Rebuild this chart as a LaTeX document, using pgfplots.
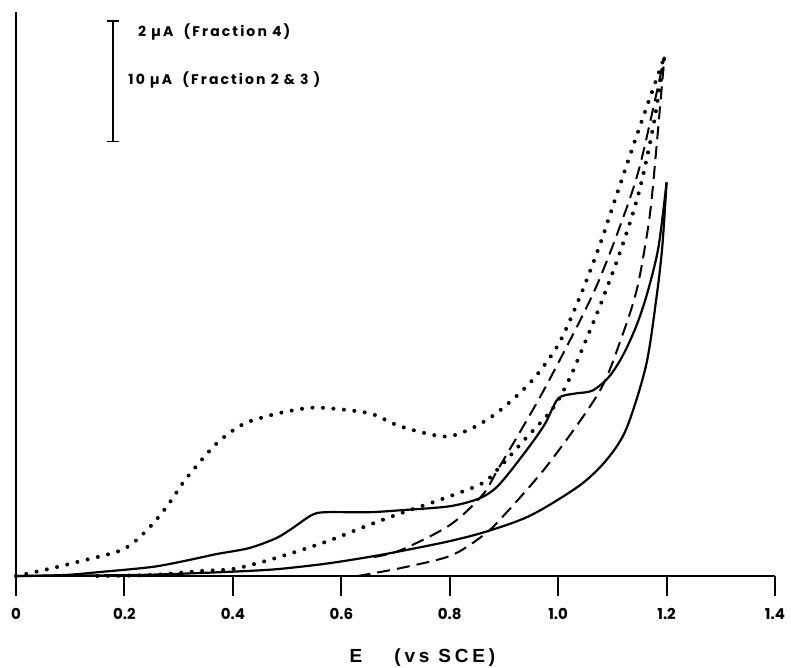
\documentclass[border=0pt]{standalone}
\usepackage{fontspec}
\setmainfont{Liberation Sans}
\newfontfamily\tickfont{Poppins}
\usepackage{pgfplots}
\pgfplotsset{compat=1.18}

\pgfplotsset{
  dotcurve/.style={black, line width=4pt, line cap=round, dash pattern=on 0pt off 10.5pt, smooth},
  dashcurve/.style={black, line width=2pt, dash pattern=on 13pt off 7pt, smooth},
  solidcurve/.style={black, line width=2.2pt, smooth},
}

\begin{document}
\begin{tikzpicture}
\begin{axis}[
  scale only axis,
  width=759pt, height=564pt,
  xmin=0, xmax=1.4, ymin=0, ymax=566,
  axis x line=bottom, axis y line=left,
  axis line style={line width=2.6pt, -},
  xtick={0,0.2,0.4,0.6,0.8,1.0,1.2,1.4},
  xticklabels={0,0.2,0.4,0.6,0.8,1.0,1.2,1.4},
  ytick=\empty,
  tick align=outside,
  major tick length=20pt,
  xtick style={line width=2pt, black},
  xticklabel style={font=\tickfont\bfseries\fontsize{15}{15}\selectfont, anchor=north, yshift=-9pt},
  clip=false,
]
% fraction 4 (dotted), forward and reverse
\addplot[dotcurve] coordinates {
  (0,0) (0.06,7) (0.12,15) (0.19,25) (0.22,35) (0.25,51) (0.28,71) (0.31,95)
  (0.34,115) (0.37,133) (0.40,146) (0.43,155) (0.49,164) (0.55,169) (0.62,166)
  (0.66,162) (0.71,150) (0.79,140) (0.84,148) (0.89,165) (0.95,195) (1.00,232)
  (1.04,280) (1.076,331) (1.107,381) (1.15,450) (1.196,521)
};
\addplot[dotcurve] coordinates {
  (0.15,0) (0.25,1) (0.34,5) (0.40,7) (0.46,15) (0.52,25) (0.58,36) (0.65,51)
  (0.71,63) (0.79,78) (0.86,93) (0.89,108) (0.94,138) (0.99,168) (1.02,197)
  (1.05,235) (1.08,275) (1.118,331) (1.149,385) (1.175,450) (1.196,521)
};
% dashed pair
\addplot[dashcurve] coordinates {
  (0.63,0) (0.71,8) (0.80,20) (0.855,38) (0.89,55) (0.98,111) (1.076,185)
  (1.118,241) (1.144,285) (1.16,330) (1.173,381) (1.196,521)
};
\addplot[dashcurve] coordinates {
  (0.66,19) (0.71,26) (0.80,51) (0.86,81) (0.89,108) (0.965,178)
  (1.026,241) (1.07,290) (1.11,345) (1.15,410) (1.196,521)
};
% solid pair
\addplot[solidcurve] coordinates {
  (0,0) (0.09,1) (0.155,4) (0.25,9) (0.31,15) (0.37,22) (0.43,28) (0.48,38)
  (0.51,48) (0.545,61) (0.57,64) (0.65,64) (0.71,66) (0.80,70) (0.855,78)
  (0.89,91) (0.94,125) (0.975,152) (1.00,178) (1.03,183) (1.063,186)
  (1.094,200) (1.12,222) (1.145,252) (1.165,285) (1.185,330) (1.2,395)
};
\addplot[solidcurve] coordinates {
  (0,0) (0.22,1) (0.34,3) (0.46,6) (0.52,9) (0.58,13) (0.65,19) (0.71,25)
  (0.80,35) (0.87,45) (0.95,61) (1.04,91) (1.09,117) (1.126,148) (1.162,211)
  (1.181,278) (1.192,330) (1.2,395)
};

% current scale bar
\draw[line width=1.6pt] (axis cs:0.179,436) -- (axis cs:0.179,557);
\draw[line width=1.4pt] (axis cs:0.168,557) -- (axis cs:0.19,557);
\draw[line width=1.4pt] (axis cs:0.168,436) -- (axis cs:0.19,436);
\node[anchor=base west, inner sep=0pt, font=\tickfont\bfseries\fontsize{14}{14}\selectfont\addfontfeature{LetterSpace=15}]
  at (axis cs:0.225,541) {2 µA\ \ (Fraction 4)};
\node[anchor=base west, inner sep=0pt, font=\tickfont\bfseries\fontsize{14}{14}\selectfont\addfontfeature{LetterSpace=15}]
  at (axis cs:0.207,493) {10 µA\ \ (Fraction\ 2 \& 3 )};

% axis label
\node[anchor=base, font=\bfseries\fontsize{19}{19}\selectfont\addfontfeature{LetterSpace=18}]
  at (axis cs:0.627,-87) {E};
\node[anchor=base, font=\bfseries\fontsize{19}{19}\selectfont\addfontfeature{LetterSpace=20}]
  at (axis cs:0.791,-87) {(vs SCE)};
\end{axis}
\pgfresetboundingbox
\path (-16pt,-92pt) rectangle (775pt,576pt);
\end{tikzpicture}
\end{document}
